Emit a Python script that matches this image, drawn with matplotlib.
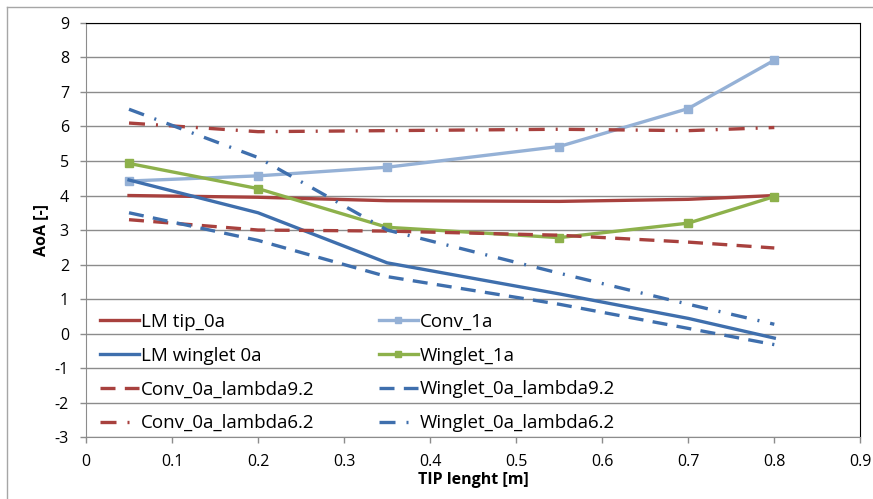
import matplotlib
matplotlib.use('Agg')
import matplotlib.pyplot as plt
from matplotlib.lines import Line2D

# data
tip_len = [0.05, 0.2, 0.35, 0.55, 0.7, 0.8]

lm_tip_0a = [4.0, 3.95, 3.85, 3.83, 3.89, 4.0]
conv_1a = [4.42, 4.57, 4.82, 5.42, 6.52, 7.92]
lm_winglet_0a = [4.45, 3.5, 2.05, 1.15, 0.44, -0.13]
winglet_1a = [4.93, 4.2, 3.08, 2.78, 3.2, 3.97]
conv_0a_l92 = [3.3, 3.0, 2.97, 2.85, 2.65, 2.48]
winglet_0a_l92 = [3.5, 2.7, 1.65, 0.85, 0.15, -0.32]
conv_0a_l62 = [6.1, 5.85, 5.88, 5.92, 5.88, 5.97]
winglet_0a_l62 = [6.5, 5.1, 3.0, 1.75, 0.85, 0.27]

x_ticks = [0, 0.1, 0.2, 0.3, 0.4, 0.5, 0.6, 0.7, 0.8, 0.9]
y_ticks = list(range(-3, 10))

RED = '#A8413E'
BLUE = '#3F6FAD'
LIGHT_BLUE = '#95B1D6'
GREEN = '#8DB14B'
GRID = '#8C8C8C'

plt.rcParams['font.family'] = ['Open Sans', 'DejaVu Sans']
plt.rcParams['axes.unicode_minus'] = False

fig = plt.figure(figsize=(8.73, 4.99), dpi=100)

# outer chart border (Excel style)
fig.add_artist(Line2D([7 / 873, 7 / 873], [0, 1 - 7 / 499], color='#A6A6A6', lw=1))
fig.add_artist(Line2D([7 / 873, 1], [1 - 7 / 499, 1 - 7 / 499], color='#A6A6A6', lw=1))

ax = fig.add_axes([0.0985, 0.124, 0.887, 0.830])

lw = 2.4
dash = (0, (4.5, 2.8))
dashdot = (0, (4.8, 3.3, 0.6, 3.3))

l1, = ax.plot(tip_len, lm_tip_0a, color=RED, lw=lw, label='LM tip_0a')
l2, = ax.plot(tip_len, conv_1a, color=LIGHT_BLUE, lw=lw, marker='s', ms=6, label='Conv_1a')
l3, = ax.plot(tip_len, lm_winglet_0a, color=BLUE, lw=lw, label='LM winglet 0a')
l4, = ax.plot(tip_len, winglet_1a, color=GREEN, lw=lw, marker='s', ms=6, label='Winglet_1a')
l5, = ax.plot(tip_len, conv_0a_l92, color=RED, lw=lw, ls=dash, label='Conv_0a_lambda9.2')
l6, = ax.plot(tip_len, winglet_0a_l92, color=BLUE, lw=lw, ls=dash, label='Winglet_0a_lambda9.2')
l7, = ax.plot(tip_len, conv_0a_l62, color=RED, lw=lw, ls=dashdot, label='Conv_0a_lambda6.2')
l8, = ax.plot(tip_len, winglet_0a_l62, color=BLUE, lw=lw, ls=dashdot, label='Winglet_0a_lambda6.2')

ax.set_xlim(0, 0.9)
ax.set_ylim(-3, 9)
ax.set_xticks(x_ticks)
ax.set_xticklabels(['0'] + [f'{v:g}' for v in x_ticks[1:]])
ax.set_yticks(y_ticks)
ax.grid(axis='y', color=GRID, lw=1.0)
ax.set_axisbelow(True)

ax.tick_params(axis='both', labelsize=11.5, direction='out', length=4.3,
               color=GRID, width=1)
ax.tick_params(axis='y', pad=8)
ax.tick_params(axis='x', pad=8)
ax.spines['left'].set_color(GRID)
ax.spines['bottom'].set_color(GRID)
ax.spines['top'].set_color('black')
ax.spines['right'].set_color('black')

ax.set_xlabel('TIP lenght [m]', fontsize=11.5, fontweight='bold', labelpad=1)
ax.set_ylabel('AoA [-]', fontsize=11.5, fontweight='bold', labelpad=4)

# Excel fills the legend row by row; matplotlib goes column by column
order = [l1, l3, l5, l7, l2, l4, l6, l8]
ax.legend(handles=order, loc='lower left', bbox_to_anchor=(0.018, 0.012), ncol=2,
          frameon=False, fontsize=13.5, handlelength=2.1, handletextpad=0.1,
          columnspacing=3.4, labelspacing=0.84, borderpad=0, borderaxespad=0,
          markerscale=0.7)

plt.savefig('out.png', dpi=100)
plt.close()
